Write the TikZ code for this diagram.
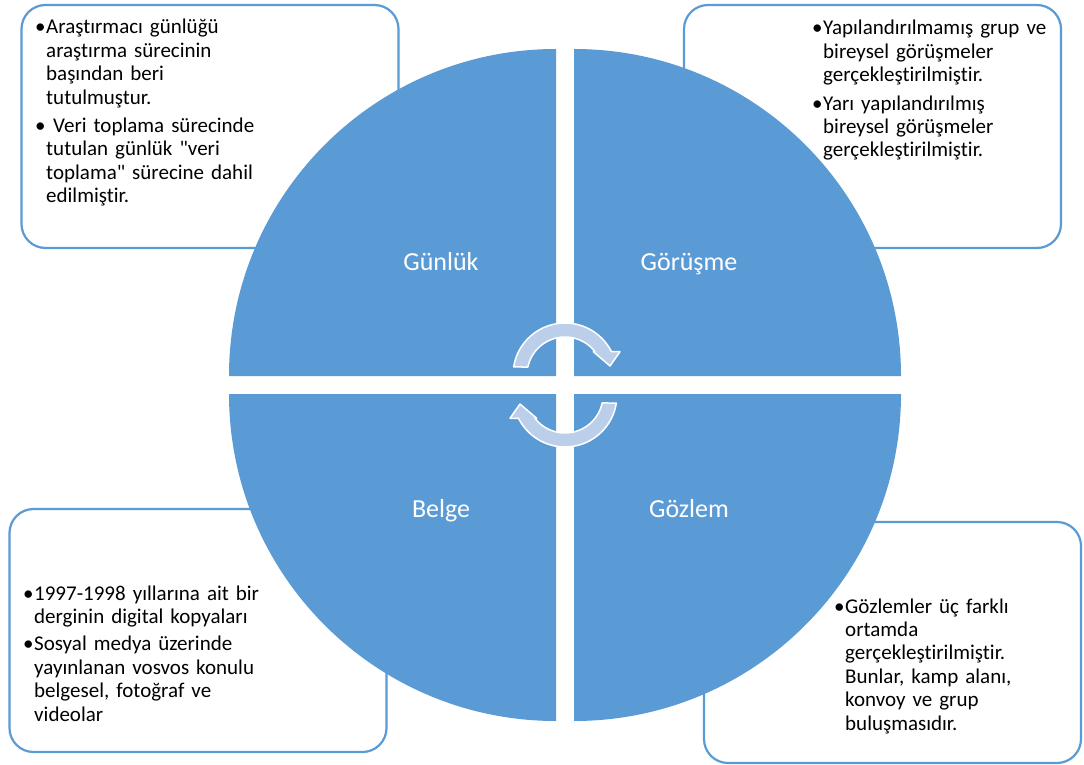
\documentclass[tikz,border=0pt]{standalone}
\usepackage{fontspec}
\setmainfont{Carlito}
\newfontfamily\boxfont{Carlito}[Ligatures={NoCommon}]
\usepackage{tikz}
\usetikzlibrary{positioning}
\definecolor{quadblue}{HTML}{5B9BD5}
\definecolor{arrowblue}{HTML}{BCCFEA}
\tikzset{
  infobox/.style={draw=quadblue, line width=2.2pt, rounded corners=24pt, fill=white,
    minimum width=377pt, minimum height=243pt, inner sep=0pt},
  boxtext/.style={inner sep=0pt, anchor=base west, text width=320pt, align=left,
    font={\boxfont\fontsize{21pt}{23.4pt}\selectfont}},
  quadlabel/.style={text=white, anchor=base, inner sep=0pt,
    font={\boxfont\fontsize{26pt}{30pt}\selectfont}},
  turnarrow/.style={fill=arrowblue, draw=white, line width=1.5pt, line join=round}
}
\newcommand{\bitem}[1]{\hangindent=11pt\hangafter=1\noindent\makebox[11pt][l]{\textbullet}#1\par}
\newcommand{\turnpath}{(171:52) arc[start angle=171, end angle=26.6, radius=52]
  -- (55,23.3) -- (45,9) -- (28.3,23.3) -- (37.8:38)
  arc[start angle=37.8, end angle=168, radius=38] -- cycle}

\begin{document}
\begin{tikzpicture}[x=1pt, y=-1pt]
\path[fill=white, use as bounding box] (0,0) rectangle (1084,765);

% side boxes, behind the disc
\node[infobox] (boxgunluk) at (210,126.5) {};
\node[infobox] (boxgorusme) at (872.5,126.5) {};
\node[infobox] (boxbelge) at (198,630.5) {};
\node[infobox, minimum height=241pt] (boxgozlem) at (892.5,642.5) {};

% disc of four quarters and the two turning arrows
\begin{scope}[shift={(565,385)}, yscale=-1]
  \foreach \sx/\sy/\a in {-1/1/90, 1/1/0, -1/-1/180, 1/-1/270}
    \fill[quadblue] (\sx*9,\sy*9) -- ++(\a:327) arc[start angle=\a, delta angle=90, radius=327] -- cycle;
  \begin{scope}[shift={(0,10)}]
    \path[turnarrow] \turnpath;
  \end{scope}
  \begin{scope}[rotate=180, shift={(0,10)}]
    \path[turnarrow] \turnpath;
  \end{scope}
\end{scope}

\node[quadlabel] (gunluk) at (441,270) {Günlük};
\node[quadlabel] (gorusme) at (689,270) {Görüşme};
\node[quadlabel] (belge) at (441,517) {Belge};
\node[quadlabel] (gozlem) at (689,517) {Gözlem};

\node[boxtext] (txtgunluk) at (35,34) {\setlength{\parskip}{5pt}%
  \bitem{Araştırmacı günlüğü\newline araştırma sürecinin\newline başından beri\newline tutulmuştur.}%
  \bitem{\ Veri toplama sürecinde\newline tutulan günlük "veri\newline toplama" sürecine dahil\newline edilmiştir.}};
\node[boxtext] (txtgorusme) at (812,35) {\setlength{\parskip}{5pt}%
  \bitem{Yapılandırılmamış grup ve\newline bireysel görüşmeler\newline gerçekleştirilmiştir.}%
  \bitem{Yarı yapılandırılmış\newline bireysel görüşmeler\newline gerçekleştirilmiştir.}};
\node[boxtext] (txtbelge) at (23,600) {\setlength{\parskip}{4pt}%
  \bitem{1997-1998 yıllarına ait bir\newline derginin digital kopyaları}%
  \bitem{Sosyal medya üzerinde\newline yayınlanan vosvos konulu\newline belgesel, fotoğraf ve\newline videolar}};
\node[boxtext] (txtgozlem) at (834,613) {%
  \bitem{Gözlemler üç farklı\newline ortamda\newline gerçekleştirilmiştir.\newline Bunlar, kamp alanı,\newline konvoy ve grup\newline buluşmasıdır.}};
\end{tikzpicture}
\end{document}
